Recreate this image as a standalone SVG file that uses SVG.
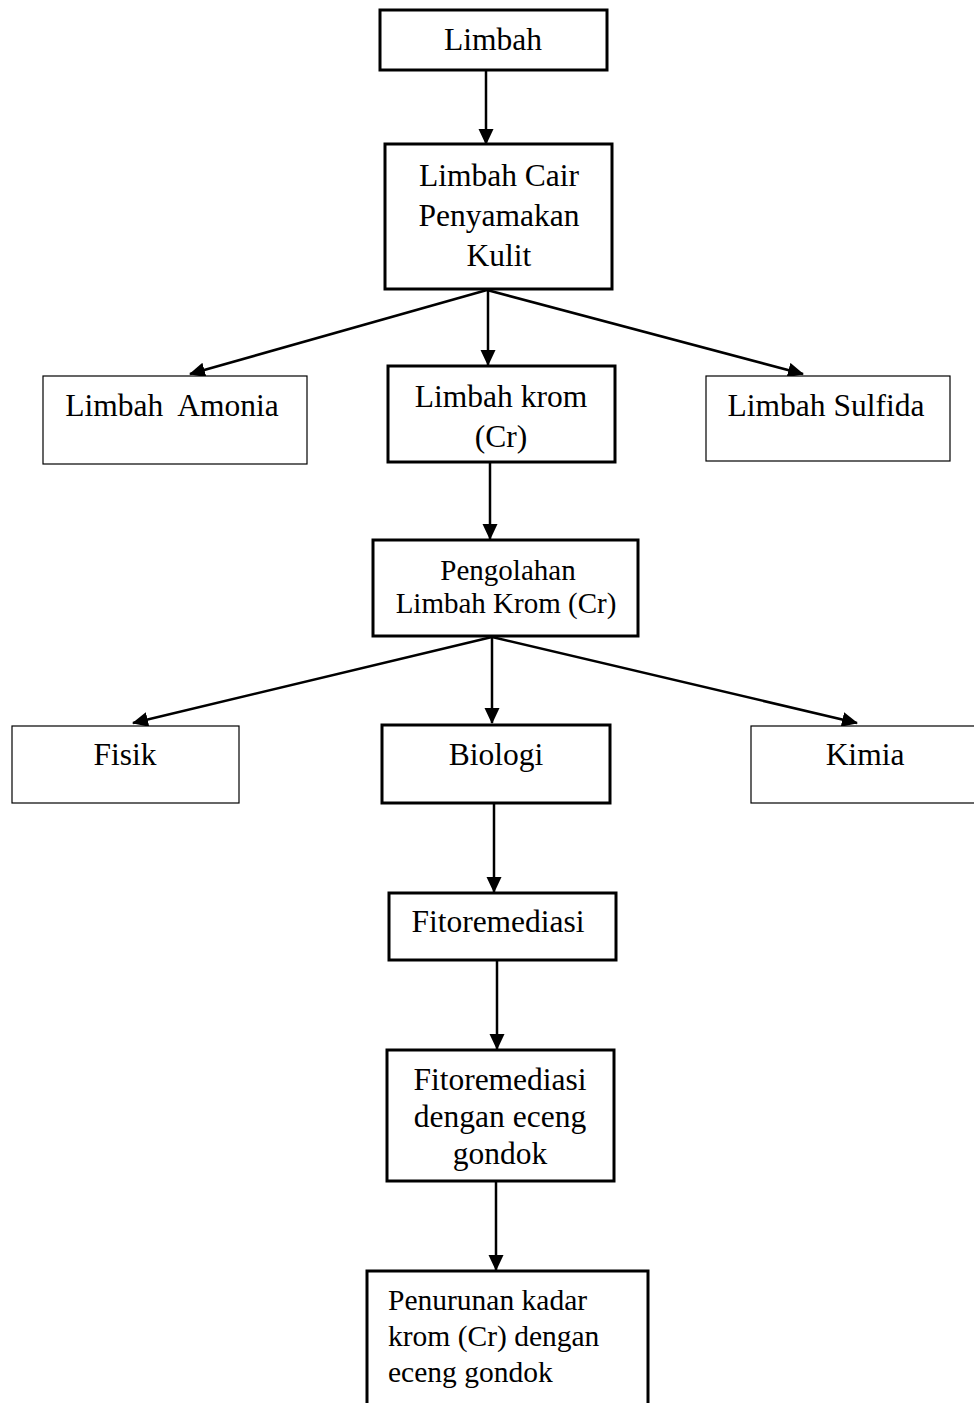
<svg xmlns="http://www.w3.org/2000/svg" width="974" height="1403" viewBox="0 0 974 1403">
<style>
.thick{fill:#fff;stroke:#000;stroke-width:3}
.thin{fill:#fff;stroke:#000;stroke-width:1.2}
text{font-family:"Liberation Serif","Times New Roman",serif;font-size:31.5px;fill:#000}
.c{text-anchor:middle}
.s29{font-size:29px}
.s295{font-size:29.5px}
.conn line{stroke:#000;stroke-width:2.5;marker-end:url(#ah)}
</style>
<defs>
<marker id="ah" viewBox="0 0 16 16" refX="15" refY="8" markerWidth="16" markerHeight="16" markerUnits="userSpaceOnUse" orient="auto">
<path d="M0,0.5 L16,8 L0,15.5 z" fill="#000"/>
</marker>
</defs>
<rect width="974" height="1403" fill="#fff"/>
<g class="conn">
<line x1="486" y1="70" x2="486" y2="144"/>
<line x1="487" y1="290" x2="190" y2="374"/>
<line x1="488" y1="290" x2="488" y2="365"/>
<line x1="487" y1="290" x2="803" y2="374"/>
<line x1="490" y1="462" x2="490" y2="539"/>
<line x1="492" y1="637" x2="133" y2="723"/>
<line x1="492" y1="637" x2="492" y2="723"/>
<line x1="492" y1="637" x2="857" y2="723"/>
<line x1="494" y1="803" x2="494" y2="892"/>
<line x1="497" y1="960" x2="497" y2="1049"/>
<line x1="496" y1="1181" x2="496" y2="1270"/>
</g>
<g id="limbah">
<rect class="thick" x="380" y="10" width="227" height="60"/>
<text class="c" x="493" y="50">Limbah</text>
</g>
<g id="limbah-cair">
<rect class="thick" x="385" y="144" width="227" height="145"/>
<text class="c" x="499" y="186">Limbah Cair</text>
<text class="c" x="499" y="226">Penyamakan</text>
<text class="c" x="499" y="266">Kulit</text>
</g>
<g id="amonia">
<rect class="thin" x="43" y="376" width="264" height="88"/>
<text class="c" x="172" y="416" xml:space="preserve">Limbah  Amonia</text>
</g>
<g id="krom">
<rect class="thick" x="388" y="366" width="227" height="96"/>
<text class="c" x="501" y="407">Limbah krom</text>
<text class="c" x="501" y="447">(Cr)</text>
</g>
<g id="sulfida">
<rect class="thin" x="706" y="376" width="244" height="85"/>
<text class="c" x="826" y="416">Limbah Sulfida</text>
</g>
<g id="pengolahan">
<rect class="thick" x="373" y="540" width="265" height="96"/>
<text class="c s29" x="508" y="580">Pengolahan</text>
<text class="c s29" x="506" y="613">Limbah Krom (Cr)</text>
</g>
<g id="fisik">
<rect class="thin" x="12" y="726" width="227" height="77"/>
<text class="c" x="125" y="765">Fisik</text>
</g>
<g id="biologi">
<rect class="thick" x="382" y="725" width="228" height="78"/>
<text class="c" x="496" y="765">Biologi</text>
</g>
<g id="kimia">
<rect class="thin" x="751" y="726" width="230" height="77"/>
<text class="c" x="865" y="765">Kimia</text>
</g>
<g id="fitoremediasi">
<rect class="thick" x="389" y="893" width="227" height="67"/>
<text class="c" x="498" y="932">Fitoremediasi</text>
</g>
<g id="fito-eceng">
<rect class="thick" x="387" y="1050" width="227" height="131"/>
<text class="c" x="500" y="1090">Fitoremediasi</text>
<text class="c" x="500" y="1127">dengan eceng</text>
<text class="c" x="500" y="1164">gondok</text>
</g>
<g id="penurunan">
<rect class="thick" x="367" y="1271" width="281" height="140"/>
<text class="s295" x="388" y="1310">Penurunan kadar</text>
<text class="s295" x="388" y="1346">krom (Cr) dengan</text>
<text class="s295" x="388" y="1382">eceng gondok</text>
</g>
</svg>
